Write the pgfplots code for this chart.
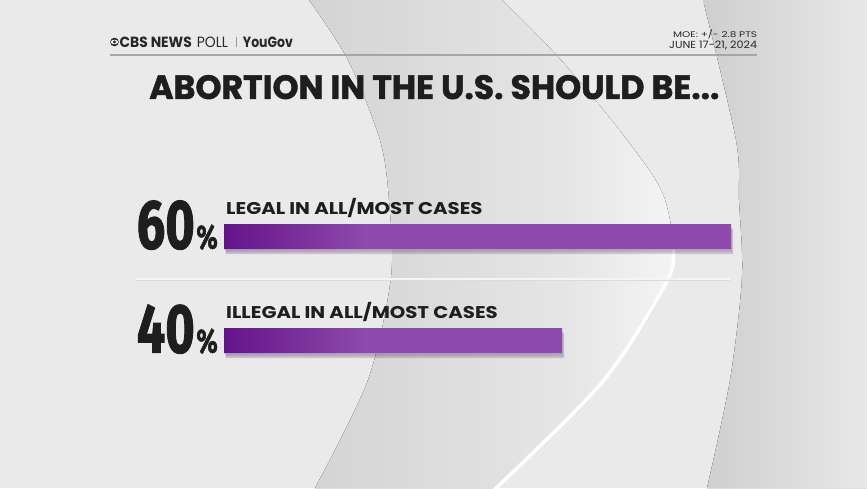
\documentclass[border=0pt]{standalone}
\usepackage{fontspec}
\setmainfont{Poppins}
\newfontfamily\fira{Fira Sans}[BoldFeatures={FakeBold=1.6}]
\newfontfamily\titlefont{Poppins}[BoldFeatures={FakeBold=1.4}]
\usepackage{graphicx}
\usepackage{pgfplots}
\pgfplotsset{compat=1.18}

\definecolor{pdark}{RGB}{100,20,138}
\definecolor{pmain}{RGB}{142,74,172}
\definecolor{bg}{RGB}{234,234,234}
\definecolor{txt}{RGB}{30,30,30}
\definecolor{hdr}{RGB}{40,40,40}
\pgfdeclarehorizontalshading{barshade}{100bp}{color(0bp)=(pdark); color(25bp)=(pdark); color(39bp)=(pmain); color(100bp)=(pmain)}
\pgfdeclarehorizontalshading{crescent}{100bp}{color(0bp)=(black!17); color(25bp)=(black!17); color(60bp)=(black!10); color(75bp)=(black!4); color(100bp)=(black!4)}
\pgfdeclarehorizontalshading{rband}{100bp}{color(0bp)=(black!19); color(25bp)=(black!19); color(75bp)=(black!9); color(100bp)=(black!9)}

\newcommand\numlabel[1]{\textcolor{txt}{\resizebox{58pt}{48pt}{\fira\bfseries #1}\hspace{1.5pt}\resizebox{21.5pt}{24pt}{\fira\bfseries\%}}}

\begin{document}
\begin{tikzpicture}[x=1pt,y=1pt]
\useasboundingbox (0,0) rectangle (867,488);
\fill[bg] (0,0) rectangle (867,488);
\begin{scope}[shift={(0,488)},yscale=-1]
  % right band
  \fill[shading=rband] plot[smooth] coordinates {(703,0)(736,140)(739,200)(742,277)(730,380)(707,488)} -- (867,488) -- (867,0) -- cycle;
  % crescent
  \fill[shading=crescent] plot[smooth] coordinates {(309,0)(348,60)(380,140)(389,200)(391,277)(368,380)(315,488)} -- plot[smooth] coordinates {(494,488)(604,380)(669,277)(665,200)(627,140)(561,60)(502,0)} -- cycle;
  % highlight
  \draw[white, line width=3.5pt] plot[smooth] coordinates {(494,490)(604,380)(669,277)(671,240)};
  % header
  \draw[black!35, line width=1.4pt] (110,55) -- (757,55);
  \fill[hdr] (114.5,42) circle (4.3);
  \fill[white] (114.5,42) ellipse (3.6 and 2.3);
  \fill[hdr] (114.5,42) circle (1.7);
  \node[anchor=base west, inner sep=0, text=hdr] at (119.3,47.3) {\resizebox{72.4pt}{10.5pt}{\bfseries CBS NEWS}};
  \node[anchor=base west, inner sep=0, text=hdr] at (196.7,47.3) {\resizebox{31pt}{10.5pt}{POLL}};
  \draw[black!40, line width=0.6pt] (236.7,37) -- (236.7,47.3);
  \node[anchor=base west, inner sep=0, text=hdr] at (242.7,47.3) {\resizebox{50pt}{10.5pt}{\bfseries YouGov}};
  \node[anchor=base east, inner sep=0, text=hdr] at (757.3,37.8) {\resizebox{84pt}{7.7pt}{MOE: +/- 2.8 PTS}};
  \node[anchor=base east, inner sep=0, text=hdr] at (757.3,49) {\resizebox{88pt}{7.5pt}{JUNE 17-21, 2024}};
  % title
  \node[anchor=base west, inner sep=0, text=txt] at (149,99) {\resizebox{570pt}{24pt}{\titlefont\bfseries ABORTION IN THE U.S. SHOULD BE...}};
  % separator
  \draw[black!14, line width=1pt] (136,280.5) -- (730,280.5);
  \draw[white!96!black, line width=1.5pt] (136,279) -- (730,279);
\end{scope}

\begin{axis}[
  at={(224pt,95.5pt)}, anchor=south west,
  scale only axis, width=507pt, height=208pt,
  xmin=0, xmax=60, ymin=-0.5, ymax=1.5,
  hide axis, clip=false,
]
\addplot[xbar, bar shift=0pt, bar width=25pt, draw=none, shading=barshade,
  preaction={fill=black, fill opacity=0.10, transform canvas={yshift=-5pt, xshift=2pt}},
  preaction={fill=black, fill opacity=0.08, transform canvas={yshift=-3pt, xshift=1pt}}]
  coordinates {(60,1) (40,0)};
\addplot[draw=none, mark=none,
  point meta=explicit symbolic,
  nodes near coords={\numlabel{\pgfplotspointmeta}},
  every node near coord/.append style={anchor=base east, inner sep=0pt, xshift=-6pt, yshift=-12pt}]
  coordinates {(0,1) [60] (0,0) [40]};
\node[anchor=base west, inner sep=0, text=txt, font=\bfseries\fontsize{17}{20}\selectfont] at ([xshift=2pt, yshift=22.5pt]axis cs:0,1) {\scalebox{1.16}[1]{LEGAL IN ALL/MOST CASES}};
\node[anchor=base west, inner sep=0, text=txt, font=\bfseries\fontsize{17}{20}\selectfont] at ([xshift=2pt, yshift=22.5pt]axis cs:0,0) {\scalebox{1.16}[1]{ILLEGAL IN ALL/MOST CASES}};
\end{axis}
\end{tikzpicture}
\end{document}
